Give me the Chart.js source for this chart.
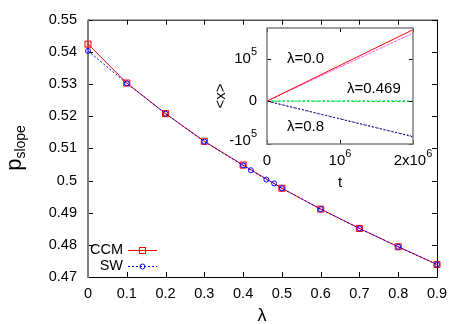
<!DOCTYPE html>
<html>
<head>
<meta charset="utf-8">
<script src="https://cdn.jsdelivr.net/npm/chart.js@4/dist/chart.umd.min.js"></script>
<style>
  body { margin: 0; background: #fff; }
  #wrap { position: relative; width: 463px; height: 324px; }
  #wrap canvas { position: absolute; left: 0; top: 0; }
</style>
</head>
<body>
<div id="wrap">
  <canvas id="main" width="463" height="324"></canvas>
  <canvas id="inset" width="463" height="324"></canvas>
</div>
<script>
// main plot data
const lambdaCCM = [0, 0.1, 0.2, 0.3, 0.4, 0.5, 0.6, 0.7, 0.8, 0.9];
const pCCM = [0.5424, 0.5303, 0.5208, 0.5122, 0.5048, 0.4976, 0.4911, 0.4851, 0.4794, 0.4739];
const lambdaSW = [0, 0.1, 0.2, 0.3, 0.4, 0.42, 0.46, 0.48, 0.5, 0.6, 0.7, 0.8, 0.9];
const pSW = [0.5403, 0.5302, 0.5208, 0.5121, 0.5047, 0.5032, 0.5003, 0.4991, 0.4976, 0.4911, 0.4851, 0.4794, 0.4739];
const xTicks = [0, 0.1, 0.2, 0.3, 0.4, 0.5, 0.6, 0.7, 0.8, 0.9];
const yTicks = [0.47, 0.48, 0.49, 0.5, 0.51, 0.52, 0.53, 0.54, 0.55];

// inset data
const tInset = [0, 2e6];
const x00a = [0, 1.68e5];
const x00b = [0, 1.60e5];
const x0469a = [0, -1000];
const x0469b = [0, 600];
const x08a = [0, -0.84e5];
const x08b = [0, -0.83e5];
const insetXTicks = [0, 1e6, 2e6];
const insetYTicks = [-1e5, 0, 1e5];

const FONT = "'Liberation Sans', Arial, sans-serif";
const pts = (xs, ys) => xs.map((x, i) => ({ x: x, y: ys[i] }));

// frame, inward ticks, titles and legend of the main plot
const mainDeco = {
  id: "mainDeco",
  beforeDatasetsDraw(chart) {
    const { ctx, chartArea: a, scales } = chart;
    ctx.save();
    ctx.strokeStyle = "#000";
    ctx.lineWidth = 1;
    ctx.beginPath();
    xTicks.forEach(v => {
      const x = Math.round(scales.x.getPixelForValue(v)) + 0.5;
      ctx.moveTo(x, a.bottom); ctx.lineTo(x, a.bottom - 5);
      ctx.moveTo(x, a.top); ctx.lineTo(x, a.top + 5);
    });
    yTicks.forEach(v => {
      const y = Math.round(scales.y.getPixelForValue(v)) + 0.5;
      ctx.moveTo(a.left, y); ctx.lineTo(a.left + 5, y);
      ctx.moveTo(a.right, y); ctx.lineTo(a.right - 5, y);
    });
    ctx.stroke();
    ctx.beginPath();
    ctx.moveTo(a.left, a.top + 0.5); ctx.lineTo(a.right + 0.5, a.top + 0.5);
    ctx.lineTo(a.right + 0.5, a.bottom + 0.5); ctx.lineTo(a.left, a.bottom + 0.5);
    ctx.stroke();
    ctx.strokeStyle = "#808080";
    ctx.lineWidth = 2;
    ctx.beginPath();
    ctx.moveTo(a.left, a.top); ctx.lineTo(a.left, a.bottom + 1);
    ctx.stroke();
    ctx.restore();
  },
  afterDraw(chart) {
    const { ctx } = chart;
    ctx.save();
    ctx.fillStyle = "#000";
    // x title
    ctx.font = "18px " + FONT;
    ctx.textAlign = "center";
    ctx.textBaseline = "alphabetic";
    ctx.fillText("λ", 262, 321);
    // y title p_slope
    ctx.translate(21, 148);
    ctx.rotate(-Math.PI / 2);
    ctx.font = "22px " + FONT;
    const wp = ctx.measureText("p").width;
    ctx.font = "14px " + FONT;
    const ws = ctx.measureText("slope").width;
    const x0 = -(wp + ws) / 2;
    ctx.textAlign = "left";
    ctx.font = "22px " + FONT;
    ctx.fillText("p", x0, 0);
    ctx.font = "14px " + FONT;
    ctx.fillText("slope", x0 + wp, 4);
    ctx.restore();

    // legend
    ctx.save();
    ctx.font = "14.5px " + FONT;
    ctx.textAlign = "right";
    ctx.textBaseline = "middle";
    ctx.fillStyle = "#000";
    ctx.fillText("CCM", 123, 250);
    ctx.fillText("SW", 123, 266);
    ctx.lineWidth = 1;
    ctx.strokeStyle = "#ff0000";
    ctx.beginPath(); ctx.moveTo(128, 250.5); ctx.lineTo(157, 250.5); ctx.stroke();
    ctx.strokeRect(139.5, 247.5, 6, 6);
    ctx.strokeStyle = "#0000ff";
    ctx.setLineDash([2, 2]);
    ctx.beginPath(); ctx.moveTo(128, 266.5); ctx.lineTo(157, 266.5); ctx.stroke();
    ctx.setLineDash([]);
    ctx.beginPath(); ctx.arc(142.5, 266.5, 2.5, 0, Math.PI * 2); ctx.stroke();
    ctx.restore();
  }
};

new Chart(document.getElementById("main"), {
  type: "line",
  data: {
    datasets: [
      {
        label: "SW",
        data: pts(lambdaSW, pSW),
        borderColor: "#0000ff",
        borderWidth: 1,
        borderDash: [2, 2],
        pointStyle: "circle",
        pointRadius: 2.5,
        pointBorderColor: "#0000ff",
        pointBackgroundColor: "rgba(0,0,0,0)",
        pointBorderWidth: 1,
        clip: false
      },
      {
        label: "CCM",
        data: pts(lambdaCCM, pCCM),
        borderColor: "#ff0000",
        borderWidth: 1,
        pointStyle: "rect",
        pointRadius: 4.3,
        pointBorderColor: "#ff0000",
        pointBackgroundColor: "rgba(255,0,0,0.15)",
        pointBorderWidth: 1,
        clip: false
      }
    ]
  },
  options: {
    responsive: false,
    animation: false,
    layout: { padding: { top: 18, right: 26, left: 0, bottom: 0 } },
    plugins: { legend: { display: false }, tooltip: { enabled: false } },
    scales: {
      x: {
        type: "linear",
        min: 0,
        max: 0.9,
        afterBuildTicks: s => { s.ticks = xTicks.map(v => ({ value: v })); },
        afterFit: s => { s.height = 47; },
        grid: { display: false, drawTicks: false },
        border: { display: false },
        ticks: {
          font: { family: FONT, size: 14.5 },
          color: "#000",
          padding: 8,
          maxRotation: 0,
          autoSkip: false,
          callback: v => String(+v.toFixed(2))
        }
      },
      y: {
        type: "linear",
        min: 0.47,
        max: 0.55,
        afterBuildTicks: s => { s.ticks = yTicks.map(v => ({ value: v })); },
        afterFit: s => { s.width = 88; },
        grid: { display: false, drawTicks: false },
        border: { display: false },
        ticks: {
          font: { family: FONT, size: 14.5 },
          color: "#000",
          padding: 11,
          autoSkip: false,
          callback: v => String(+v.toFixed(2))
        }
      }
    }
  },
  plugins: [mainDeco]
});

// tick labels like 10^5, 2x10^6 with a raised exponent
function sciParts(v) {
  if (v === 0) return ["0", ""];
  const e = Math.floor(Math.log10(Math.abs(v)));
  const m = Math.round(Math.abs(v) / Math.pow(10, e));
  return [(v < 0 ? "-" : "") + (m === 1 ? "" : m + "x") + "10", String(e)];
}
function drawSci(ctx, v, x, y, align) {
  const [base, sup] = sciParts(v);
  ctx.font = "15px " + FONT;
  const wb = ctx.measureText(base).width;
  ctx.font = "11px " + FONT;
  const ws = sup ? ctx.measureText(sup).width : 0;
  const total = wb + ws;
  const start = align === "right" ? x - total : x - total / 2;
  ctx.textAlign = "left";
  ctx.textBaseline = "middle";
  ctx.font = "15px " + FONT;
  ctx.fillText(base, start, y);
  if (sup) {
    ctx.font = "11px " + FONT;
    ctx.fillText(sup, start + wb, y - 7);
  }
}

const insetDeco = {
  id: "insetDeco",
  afterDraw(chart) {
    const { ctx, chartArea: a, scales } = chart;
    ctx.save();
    ctx.strokeStyle = "#000";
    ctx.lineWidth = 1;
    ctx.beginPath();
    insetXTicks.forEach(v => {
      const x = Math.round(scales.x.getPixelForValue(v)) + 0.5;
      ctx.moveTo(x, a.bottom); ctx.lineTo(x, a.bottom - 4);
      ctx.moveTo(x, a.top); ctx.lineTo(x, a.top + 4);
    });
    insetYTicks.forEach(v => {
      const y = Math.round(scales.y.getPixelForValue(v)) + 0.5;
      ctx.moveTo(a.left, y); ctx.lineTo(a.left + 4, y);
      ctx.moveTo(a.right, y); ctx.lineTo(a.right - 4, y);
    });
    ctx.stroke();
    ctx.strokeStyle = "#808080";
    ctx.lineWidth = 1.5;
    ctx.strokeRect(a.left, a.top, a.right - a.left, a.bottom - a.top);

    ctx.fillStyle = "#000";
    insetXTicks.forEach(v => drawSci(ctx, v, scales.x.getPixelForValue(v), 161, "center"));
    insetYTicks.forEach(v => drawSci(ctx, v, 257, Math.min(scales.y.getPixelForValue(v), 141), "right"));

    ctx.font = "15px " + FONT;
    ctx.textAlign = "left";
    ctx.textBaseline = "middle";
    ctx.fillText("λ=0.0", 287, 59);
    ctx.fillText("λ=0.469", 347, 89);
    ctx.fillText("λ=0.8", 287, 127);
    ctx.textAlign = "center";
    ctx.fillText("t", 340, 183);
    ctx.translate(221, 96);
    ctx.rotate(-Math.PI / 2);
    ctx.fillText("<x>", 0, 0);
    ctx.restore();
  }
};

const insetLine = (label, ys, color, dash) => ({
  label: label,
  data: pts(tInset, ys),
  borderColor: color,
  borderWidth: 1,
  borderDash: dash,
  pointRadius: 0
});

new Chart(document.getElementById("inset"), {
  type: "line",
  data: {
    datasets: [
      insetLine("λ=0.0", x00a, "#ff0000", []),
      insetLine("λ=0.0 b", x00b, "#ff55ff", [3, 1]),
      insetLine("λ=0.469", x0469a, "#00dd00", [3, 2]),
      insetLine("λ=0.469 b", x0469b, "#00cccc", [2, 2]),
      insetLine("λ=0.8", x08a, "#000080", [2, 2]),
      insetLine("λ=0.8 b", x08b, "#3333aa", [1, 2])
    ]
  },
  options: {
    responsive: false,
    animation: false,
    layout: { padding: { left: 267, top: 28, right: 50, bottom: 180 } },
    plugins: { legend: { display: false }, tooltip: { enabled: false } },
    scales: {
      x: { type: "linear", min: 0, max: 2e6, display: false },
      y: { type: "linear", min: -1.01e5, max: 1.72e5, display: false }
    }
  },
  plugins: [insetDeco]
});
</script>
</body>
</html>
